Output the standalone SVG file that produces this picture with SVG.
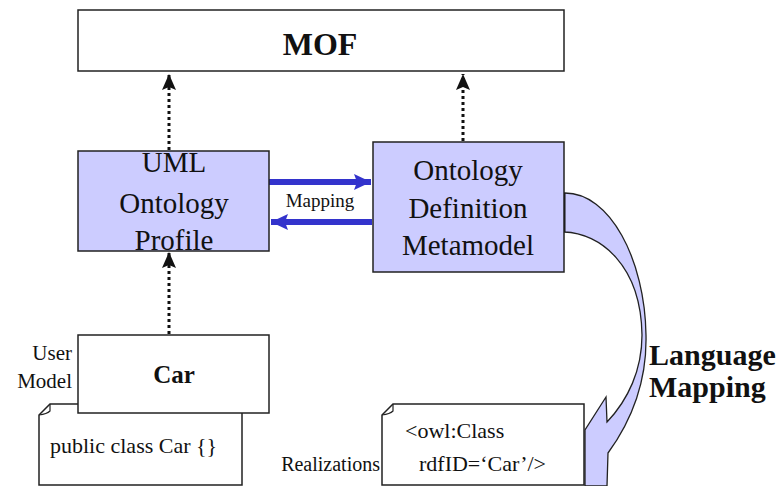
<svg xmlns="http://www.w3.org/2000/svg" width="780" height="486" viewBox="0 0 780 486">
<style>
text{font-family:"Liberation Serif","Times New Roman",serif;fill:#111}
.box{stroke:#222;stroke-width:1.5}
.white{fill:#fff}
.lav{fill:#ccccff}
.dot{stroke:#111;stroke-width:3;stroke-dasharray:3,3;fill:none}
.map{stroke:#3333cc;stroke-width:6;fill:none}
.mid{text-anchor:middle}
.b{font-weight:bold}
</style>
<defs>
<marker id="ah" viewBox="0 0 16 14" refX="16" refY="7" markerWidth="16" markerHeight="14" orient="auto" markerUnits="userSpaceOnUse"><path d="M0,0 L16,7 L0,14 L3,7 Z" fill="#111"/></marker>
<marker id="bh" viewBox="0 0 17 16" refX="17" refY="8" markerWidth="17" markerHeight="16" orient="auto" markerUnits="userSpaceOnUse"><path d="M0,0 L17,8 L0,16 L3,8 Z" fill="#3333cc"/></marker>
</defs>
<rect width="780" height="486" fill="#fff"/>
<g id="connectors">
<line class="dot" x1="169" y1="150" x2="169" y2="74" marker-end="url(#ah)"/>
<line class="dot" x1="463" y1="141" x2="463" y2="74" marker-end="url(#ah)"/>
<line class="dot" x1="169" y1="334" x2="169" y2="252" marker-end="url(#ah)"/>
<line class="map" x1="269" y1="182" x2="371" y2="182" marker-end="url(#bh)"/>
<line class="map" x1="372" y1="222" x2="271" y2="222" marker-end="url(#bh)"/>
<text x="320" y="207" class="mid" font-size="19">Mapping</text>
<path d="M564,193 C610,192 645,260 646,335 C647,380 632,420 608,453 L607,486 L585,486 L585,430 L606,397 L607,422 C628,400 642,370 642,335 C641,265 600,233 564,232 Z" fill="#ccccff" stroke="#222" stroke-width="1.3"/>
<line x1="564" y1="193" x2="564" y2="232" stroke="#111" stroke-width="3"/>
<text x="649" y="365" font-size="30" class="b">Language</text>
<text x="649" y="397" font-size="30" class="b">Mapping</text>
</g>
<g id="mof">
<rect class="box white" x="78" y="10" width="486" height="61"/>
<text x="320" y="55" class="mid b" font-size="32">MOF</text>
</g>
<g id="uml">
<rect class="box lav" x="78" y="151" width="191" height="100"/>
<text x="174" y="172" class="mid" font-size="29">UML</text>
<text x="174" y="213" class="mid" font-size="29">Ontology</text>
<text x="174" y="250" class="mid" font-size="29">Profile</text>
</g>
<g id="odm">
<rect class="box lav" x="373" y="142" width="191" height="130"/>
<text x="468" y="180" class="mid" font-size="29">Ontology</text>
<text x="468" y="218" class="mid" font-size="29">Definition</text>
<text x="468" y="255" class="mid" font-size="29">Metamodel</text>
</g>
<g id="java-note">
<path class="box white" d="M50,404 L242,404 L242,485 L39,485 L39,415 Z"/>
<path d="M39,415 Q47,414 50,411 L50,404" fill="none" stroke="#222" stroke-width="1.2"/>
<text x="50" y="453" font-size="22">public class Car {}</text>
</g>
<g id="car">
<rect class="box white" x="78" y="335" width="191" height="78"/>
<text x="174" y="383" class="mid b" font-size="25">Car</text>
<text x="72" y="360" font-size="21" text-anchor="end">User</text>
<text x="72" y="388" font-size="21" text-anchor="end">Model</text>
</g>
<g id="owl-note">
<path class="box white" d="M393,404 L584,404 L584,485 L382,485 L382,415 Z"/>
<path d="M382,415 Q390,414 393,411 L393,404" fill="none" stroke="#222" stroke-width="1.2"/>
<text x="405" y="438" font-size="22">&lt;owl:Class</text>
<text x="419" y="471" font-size="22">rdfID=‘Car’/&gt;</text>
<text x="380" y="471" font-size="20" text-anchor="end">Realizations</text>
</g>
</svg>
